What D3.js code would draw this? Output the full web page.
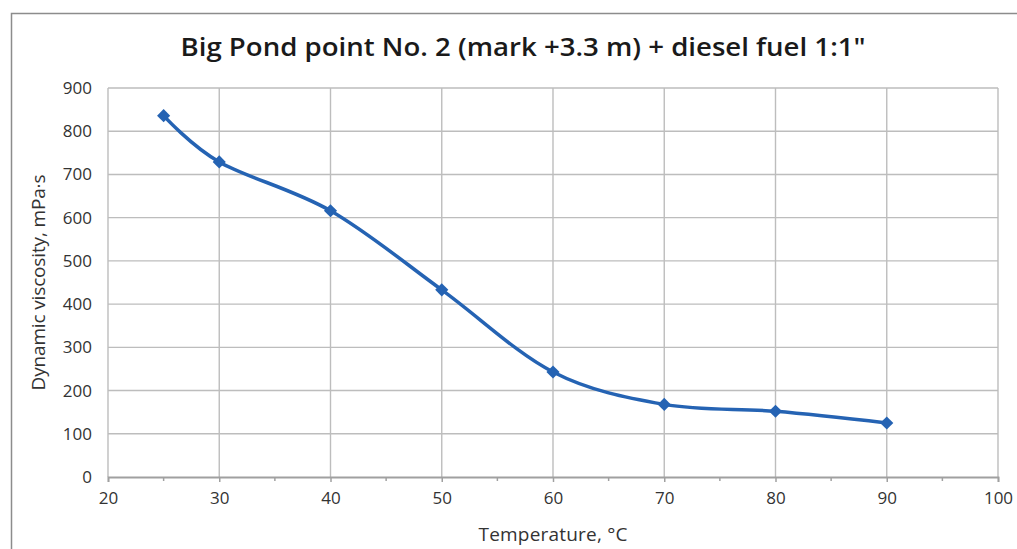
<!DOCTYPE html>
<html>
<head>
<meta charset="utf-8">
<script src="https://cdn.jsdelivr.net/npm/d3@7"></script>
<style>
  html, body { margin: 0; padding: 0; background: #fff; }
  svg { display: block; }
</style>
</head>
<body>
<div id="chart"></div>
<script>
// Temperature, °C
const temps = [25, 30, 40, 50, 60, 70, 80, 90];
// Dynamic viscosity, mPa·s
const viscosity = [836, 729, 616, 433, 243, 168, 152, 125];
const xTicks = [20, 30, 40, 50, 60, 70, 80, 90, 100];
const xMinorTicks = [25, 35, 45, 55, 65, 75, 85, 95];
const yTicks = [0, 100, 200, 300, 400, 500, 600, 700, 800, 900];

const W = 1017, H = 549;
const margin = { left: 108, right: 19, top: 88, bottom: 72 };
const FONT = "'Open Sans', 'Liberation Sans', sans-serif";

const svg = d3.select('#chart').append('svg')
  .attr('width', W)
  .attr('height', H);

// outer chart frame (runs off the right/bottom edge in the reference)
svg.append('rect')
  .attr('x', 11.5).attr('y', 13.5)
  .attr('width', W).attr('height', H)
  .attr('fill', '#fff')
  .attr('stroke', '#8c8c8c')
  .attr('stroke-width', 1.5);

const x = d3.scaleLinear().domain([20, 100]).range([margin.left, W - margin.right]);
const y = d3.scaleLinear().domain([0, 900]).range([H - margin.bottom, margin.top]);

// gridlines
const grid = svg.append('g').attr('stroke', '#bdbdbd').attr('stroke-width', 1.4);
grid.selectAll('line.h').data(yTicks.slice(1)).join('line')
  .attr('x1', x(20)).attr('x2', x(100))
  .attr('y1', d => y(d)).attr('y2', d => y(d));
grid.selectAll('line.v').data(xTicks).join('line')
  .attr('y1', y(0)).attr('y2', y(900))
  .attr('x1', d => x(d)).attr('x2', d => x(d));

// x axis
const xAxis = svg.append('g')
  .attr('transform', `translate(0,${y(0)})`)
  .call(d3.axisBottom(x).tickValues(xTicks).tickSize(5).tickPadding(10));
xAxis.select('.domain').attr('stroke', '#a0a0a0').attr('stroke-width', 1.8);
xAxis.selectAll('.tick line').attr('stroke', '#a0a0a0').attr('stroke-width', 1.5);
xAxis.selectAll('text').attr('font-family', FONT).attr('font-size', 17).attr('fill', '#333');

svg.append('g')
  .attr('transform', `translate(0,${y(0)})`)
  .selectAll('line').data(xMinorTicks).join('line')
  .attr('x1', d => x(d)).attr('x2', d => x(d))
  .attr('y1', 0).attr('y2', 4)
  .attr('stroke', '#a0a0a0').attr('stroke-width', 1.5);

// y axis (labels only, no line)
const yAxis = svg.append('g')
  .attr('transform', `translate(${x(20)},0)`)
  .call(d3.axisLeft(y).tickValues(yTicks).tickSize(0).tickPadding(16));
yAxis.select('.domain').remove();
yAxis.selectAll('text').attr('font-family', FONT).attr('font-size', 17).attr('fill', '#333');

// series
const pts = temps.map((t, i) => [t, viscosity[i]]);
const line = d3.line()
  .x(d => x(d[0])).y(d => y(d[1]))
  .curve(d3.curveCatmullRom.alpha(0));

svg.append('path')
  .datum(pts)
  .attr('d', line)
  .attr('fill', 'none')
  .attr('stroke', '#2563b3')
  .attr('stroke-width', 3.5)
  .attr('stroke-linejoin', 'round');

svg.append('g').selectAll('path').data(pts).join('path')
  .attr('transform', d => `translate(${x(d[0])},${y(d[1])})`)
  .attr('d', d3.symbol(d3.symbolDiamond2, 110))
  .attr('fill', '#2563b3');

// title
svg.append('text')
  .attr('x', 523).attr('y', 56)
  .attr('text-anchor', 'middle')
  .attr('font-family', FONT)
  .attr('font-weight', 600)
  .attr('font-size', 25)
  .attr('fill', '#1a1a1a')
  .attr('textLength', 685)
  .attr('lengthAdjust', 'spacingAndGlyphs')
  .text('Big Pond point No. 2 (mark +3.3 m) + diesel fuel 1:1"');

// axis titles
svg.append('text')
  .attr('x', 553).attr('y', 541)
  .attr('text-anchor', 'middle')
  .attr('font-family', FONT)
  .attr('font-size', 19)
  .attr('fill', '#333')
  .attr('textLength', 149)
  .text('Temperature, °C');

svg.append('text')
  .attr('transform', `translate(45,${(y(0) + y(900)) / 2}) rotate(-90)`)
  .attr('text-anchor', 'middle')
  .attr('font-family', FONT)
  .attr('font-size', 19)
  .attr('fill', '#333')
  .attr('textLength', 216)
  .text('Dynamic viscosity, mPa·s');
</script>
</body>
</html>
